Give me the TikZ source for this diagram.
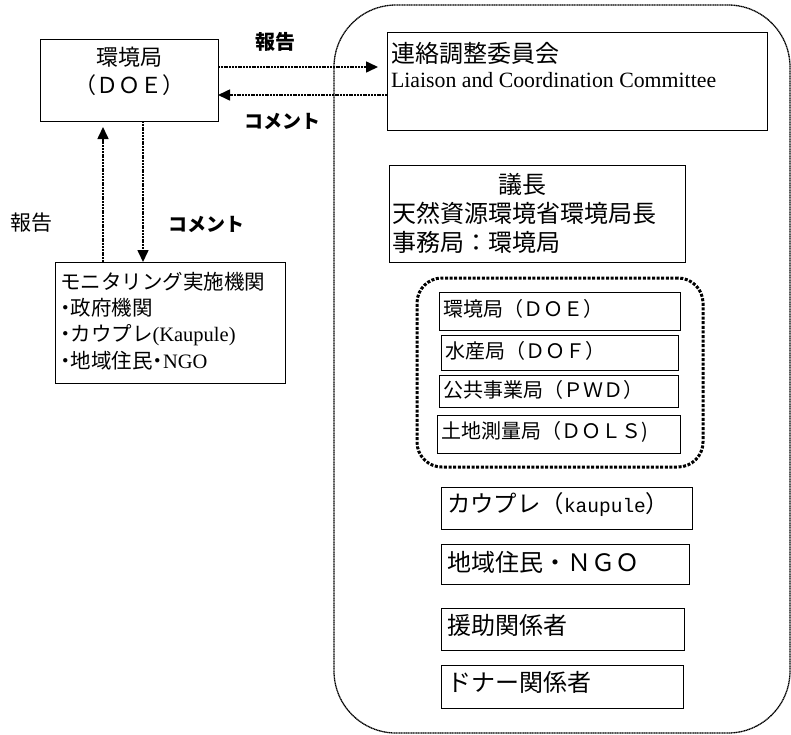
\documentclass[tikz,border=0pt]{standalone}
\usepackage{fontspec}
\setmainfont{Liberation Serif}
\newfontfamily\jp{Noto Sans CJK JP}
\newfontfamily\lmono{Liberation Mono}
\usetikzlibrary{arrows.meta}
\newcommand{\nb}{\hspace*{-5pt}・\hspace{-5pt}}
\newcommand{\nbm}{\hspace{-5pt}・\hspace{-5pt}}
\tikzset{
  box/.style={draw, line width=0.9pt, inner sep=0pt, outer sep=0pt},
  txt/.style={inner sep=0pt, outer sep=0pt, anchor=west, font=\jp\fontsize{24}{28}\selectfont},
  txtm/.style={txt, font=\jp\fontsize{20}{24}\selectfont},
  txts/.style={txt, font=\jp\fontsize{20.5}{24}\selectfont},
  lblb/.style={inner sep=0pt, font=\jp\bfseries\fontsize{19}{22}\selectfont},
  lbl/.style={inner sep=0pt, font=\jp\fontsize{21}{24}\selectfont},
  arr/.style={line width=1.6pt, dash pattern=on 2pt off 0.8pt, -{Triangle[length=12pt,width=11pt]}},
  bigframe/.style={draw, line width=1.3pt, dash pattern=on 1.2pt off 0.5pt, rounded corners=62pt, inner sep=0pt},
  groupframe/.style={draw, line width=3pt, dash pattern=on 3pt off 1.6pt, rounded corners=25pt, inner sep=0pt}
}
\begin{document}
\begin{tikzpicture}[x=1pt,y=-1pt]
\useasboundingbox (0,0) rectangle (791,734);

% big committee frame
\node[bigframe, minimum width=456pt, minimum height=728pt] (frame) at (562,369) {};

% DOE box
\node[box, minimum width=178pt, minimum height=82pt] (doe) at (129,80) {};
\node[inner sep=0pt, font=\jp\fontsize{22}{26}\selectfont] (doet1) at (129,57) {環境局};
\node[inner sep=0pt, font=\jp\fontsize{22}{26}\selectfont] (doet2) at (129,85) {（ＤＯＥ）};

% Liaison box
\node[box, minimum width=380pt, minimum height=98pt] (liaison) at (577,81) {};
\node[txt] (liat1) at (391,53) {連絡調整委員会};
\node[txt, font=\fontsize{21.8}{26}\selectfont] (liat2) at (391,80) {Liaison and Coordination Committee};

% Chair box
\node[box, minimum width=296pt, minimum height=97pt] (chair) at (537,213.5) {};
\node[inner sep=0pt, font=\jp\fontsize{24}{28}\selectfont] (chairt1) at (522,184) {議長};
\node[txt] (chairt2) at (392,213) {天然資源環境省環境局長};
\node[txt] (chairt3) at (392,242) {事務局：環境局};

% Group of departments
\node[groupframe, minimum width=286pt, minimum height=189pt] (group) at (560,372.5) {};
\node[box, minimum width=241pt, minimum height=38pt] (b1) at (559.5,311) {};
\node[box, minimum width=237pt, minimum height=35pt] (b2) at (559.5,352.5) {};
\node[box, minimum width=239pt, minimum height=32pt] (b3) at (558.5,391) {};
\node[box, minimum width=243pt, minimum height=38pt] (b4) at (558.5,434) {};
\node[txtm] (t1) at ([xshift=4pt,yshift=2pt]b1.west) {環境局（ＤＯＥ）};
\node[txtm] (t2) at ([xshift=4pt,yshift=2pt]b2.west) {水産局（ＤＯＦ）};
\node[txtm] (t3) at ([xshift=4pt,yshift=1.5pt]b3.west) {公共事業局（ＰＷＤ）};
\node[txtm] (t4) at ([xshift=4pt,yshift=2pt]b4.west) {土地測量局（ＤＯＬＳ)};

% Other members
\node[box, minimum width=251pt, minimum height=42pt] (b5) at (566.5,508) {};
\node[box, minimum width=248pt, minimum height=40pt] (b6) at (565,564) {};
\node[box, minimum width=243pt, minimum height=42pt] (b7) at (562.5,629) {};
\node[box, minimum width=242pt, minimum height=43pt] (b8) at (562,686.5) {};
\node[txt, font=\jp\fontsize{23.4}{28}\selectfont] (t5) at ([xshift=6pt,yshift=4pt]b5.west) {カウプレ（{\lmono\fontsize{19.5}{22}\selectfont kaupule}）};
\node[txt] (t6) at ([xshift=6pt,yshift=2pt]b6.west) {地域住民・ＮＧＯ};
\node[txt] (t7) at ([xshift=6pt,yshift=4pt]b7.west) {援助関係者};
\node[txt] (t8) at ([xshift=6pt,yshift=4pt]b8.west) {ドナー関係者};

% Monitoring box
\node[box, minimum width=230pt, minimum height=121pt] (mon) at (170,322.5) {};
\node[txts] (m1) at (60,282) {モニタリング実施機関};
\node[txts] (m2) at (60,308) {\nb 政府機関};
\node[txts] (m3) at (60,335) {\nb カウプレ{\rmfamily (Kaupule)}};
\node[txts] (m4) at (60,361) {\nb 地域住民\nbm{\rmfamily NGO}};

% Arrows
\draw[arr, shorten >=9pt] ([yshift=13pt]doe.east) -- ([yshift=13pt]doe.east -| liaison.west);
\draw[arr] ([yshift=-15pt]doe.east -| liaison.west) -- ([yshift=-15pt]doe.east);
\draw[arr] ([xshift=14pt]doe.south) -- ([xshift=14pt]doe.south |- mon.north);
\draw[arr, shorten >=6pt] ([xshift=-26pt]doe.south |- mon.north) -- ([xshift=-26pt]doe.south);

% Labels
\node[lblb, font=\jp\bfseries\fontsize{20}{24}\selectfont] (lab1) at (275,42) {報告};
\node[lblb] (lab2) at (282,121) {コメント};
\node[lbl] (lab3) at (31,223) {報告};
\node[lblb] (lab4) at (206,224) {コメント};
\end{tikzpicture}
\end{document}
